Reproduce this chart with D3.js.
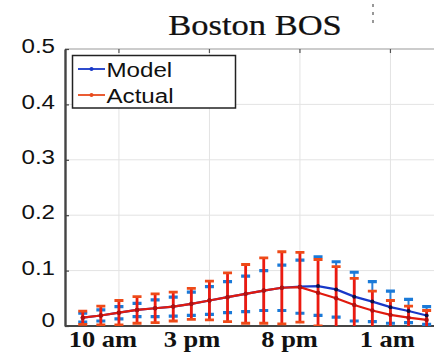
<!DOCTYPE html>
<html>
<head>
<meta charset="utf-8">
<script src="https://cdn.jsdelivr.net/npm/d3@7"></script>
<style>
  html, body { margin: 0; padding: 0; background: #fff; }
  svg { display: block; }
</style>
</head>
<body>
<svg id="chart" width="434" height="359"></svg>
<script>
// ---- data ----
const hourIndex = [0,1,2,3,4,5,6,7,8,9,10,11,12,13,14,15,16,17,18,19];
const modelValues = [0.015,0.019,0.024,0.029,0.032,0.035,0.040,0.046,0.052,0.058,0.064,0.069,0.071,0.072,0.066,0.053,0.044,0.034,0.027,0.019];
const modelErrors = [0.008,0.010,0.011,0.012,0.015,0.017,0.021,0.025,0.028,0.032,0.036,0.041,0.048,0.053,0.050,0.044,0.036,0.029,0.021,0.016];
const actualValues = [0.015,0.019,0.024,0.029,0.032,0.035,0.040,0.046,0.052,0.058,0.064,0.069,0.070,0.060,0.050,0.038,0.028,0.020,0.015,0.011];
const actualErrors = [0.012,0.017,0.022,0.024,0.026,0.026,0.028,0.035,0.044,0.053,0.059,0.065,0.063,0.060,0.057,0.048,0.035,0.026,0.021,0.017];
const yTicks = [0, 0.1, 0.2, 0.3, 0.4, 0.5];
const xGridTicks = [2, 7, 12, 17];
const xTickPositions = [1.09, 6.01, 11.4, 16.8];
const xTickLabels = ["10 am", "3 pm", "8 pm", "1 am"];
const seriesNames = ["Model", "Actual"];
const titleText = "Boston BOS";

(function () {
// ---- layout ----
const svg = d3.select("#chart");
const pL = 65, pR = 437.5, pT = 49, pB = 326;
const x = d3.scaleLinear().domain([-0.98, 19.6]).range([pL, pR]);
const y = d3.scaleLinear().domain([0, 0.5]).range([pB, pT]);
const SX = 1.15; // horizontal stretch of the reference's text

const blue = "#1838c8", red = "#e01a0e";

svg.append("clipPath").attr("id", "clip")
  .append("rect").attr("x", pL).attr("y", pT).attr("width", pR - pL).attr("height", pB - pT);

// grid
const grid = svg.append("g");
grid.selectAll("line.gy").data(yTicks.filter(d => d > 0 && d < 0.5)).join("line")
  .attr("x1", pL).attr("x2", pR).attr("y1", d => y(d)).attr("y2", d => y(d))
  .attr("stroke", "#e3e3e3").attr("stroke-width", 1);
grid.selectAll("line.gx").data(xGridTicks).join("line")
  .attr("x1", d => x(d)).attr("x2", d => x(d)).attr("y1", pT).attr("y2", pB)
  .attr("stroke", "#e3e3e3").attr("stroke-width", 1);

// top border with inward ticks
svg.append("line").attr("x1", pL).attr("x2", pR).attr("y1", pT).attr("y2", pT)
  .attr("stroke", "#9a9a9a").attr("stroke-width", 1.2);
svg.append("g").selectAll("line").data(xGridTicks).join("line")
  .attr("x1", d => x(d)).attr("x2", d => x(d)).attr("y1", pT).attr("y2", pT + 4)
  .attr("stroke", "#555").attr("stroke-width", 1.2);

// y axis
const yAxis = d3.axisLeft(y).tickValues(yTicks).tickFormat(d => d === 0 ? "0" : d3.format(".1f")(d))
  .tickSizeInner(-4).tickSizeOuter(0).tickPadding(10);
const gy = svg.append("g").attr("transform", `translate(${pL},0)`).call(yAxis);
gy.select(".domain").attr("stroke", "#444").attr("stroke-width", 2.4);
gy.selectAll(".tick line").attr("stroke", "#444").attr("stroke-width", 1.2);
gy.selectAll(".tick text")
  .attr("font-family", "Liberation Sans, Arial, sans-serif").attr("font-size", 21).attr("fill", "#111")
  .attr("x", -10 / SX).attr("dy", "0.32em")
  .attr("transform", d => `translate(0,${d === 0 ? -6 : -3}) scale(${SX},1)`);

// x axis (labels)
const xAxis = d3.axisBottom(x).tickValues(xTickPositions).tickFormat((d, i) => xTickLabels[i])
  .tickSize(0).tickPadding(5);
const gx = svg.append("g").attr("transform", `translate(0,${pB})`).call(xAxis);
gx.select(".domain").attr("stroke", "#444").attr("stroke-width", 2.2).attr("d", `M${pL},0H${434}`);
gx.selectAll(".tick text")
  .attr("font-family", "Liberation Serif, Times New Roman, serif").attr("font-size", 23)
  .attr("fill", "#111").attr("font-weight", "600")
  .attr("transform", `scale(${SX},1)`).attr("x", 0).attr("dy", "0.71em");

// data layers
const plot = svg.append("g").attr("clip-path", "url(#clip)");

function errorBars(g, vals, errs, lineColor, capColor, capW, lineW, capStroke) {
  const eg = g.append("g");
  const data = hourIndex.map((h, i) => ({ h, lo: vals[i] - errs[i], hi: vals[i] + errs[i] }));
  eg.selectAll("line.v").data(data).join("line")
    .attr("x1", d => x(d.h)).attr("x2", d => x(d.h))
    .attr("y1", d => y(d.lo)).attr("y2", d => y(d.hi))
    .attr("stroke", lineColor).attr("stroke-width", lineW);
  ["lo", "hi"].forEach(k => {
    eg.append("g").selectAll("line").data(data).join("line")
      .attr("x1", d => x(d.h) - capW / 2).attr("x2", d => x(d.h) + capW / 2)
      .attr("y1", d => y(d[k])).attr("y2", d => y(d[k]))
      .attr("stroke", capColor).attr("stroke-width", capStroke);
  });
}

const line = d3.line().x((d, i) => x(hourIndex[i])).y(d => y(d));

// model error bars (drawn first, mostly hidden behind actual bars)
errorBars(plot, modelValues, modelErrors, "#2b7fd8", "#1a7ad8", 9, 2, 3.2);
// actual error bars
errorBars(plot, actualValues, actualErrors, "#ec1a10", "#ee4a18", 9, 2.8, 2.8);

// model line
plot.append("path").datum(modelValues).attr("d", line)
  .attr("fill", "none").attr("stroke", blue).attr("stroke-width", 2.2);
plot.append("g").selectAll("circle").data(modelValues).join("circle")
  .attr("cx", (d, i) => x(hourIndex[i])).attr("cy", d => y(d)).attr("r", 2)
  .attr("fill", "#101040");
// actual line
plot.append("path").datum(actualValues).attr("d", line)
  .attr("fill", "none").attr("stroke", red).attr("stroke-width", 2.2);
plot.append("g").selectAll("circle").data(actualValues).join("circle")
  .attr("cx", (d, i) => x(hourIndex[i])).attr("cy", d => y(d)).attr("r", 2.2)
  .attr("fill", "#b01010");

// legend
const lg = svg.append("g");
lg.append("rect").attr("x", 72.5).attr("y", 55.5).attr("width", 163).attr("height", 52.5)
  .attr("fill", "#fff").attr("stroke", "#222").attr("stroke-width", 1.5);
const legendColors = [blue, "#e84a1c"];
const legendY = [69, 95];
seriesNames.forEach((name, i) => {
  lg.append("line").attr("x1", 78).attr("x2", 105).attr("y1", legendY[i]).attr("y2", legendY[i])
    .attr("stroke", legendColors[i]).attr("stroke-width", 1.8);
  lg.append("circle").attr("cx", 91.5).attr("cy", legendY[i]).attr("r", 2).attr("fill", legendColors[i]);
  lg.append("text").attr("transform", `translate(106.5,${legendY[i] + 7.5}) scale(${SX},1)`)
    .attr("font-family", "Liberation Sans, Arial, sans-serif").attr("font-size", 21).attr("fill", "#111")
    .text(name);
});

// title
svg.append("text").attr("transform", `translate(255,35) scale(${SX},1)`)
  .attr("text-anchor", "middle").attr("font-family", "Liberation Serif, Times New Roman, serif")
  .attr("font-size", 30).attr("fill", "#111").attr("stroke", "#111").attr("stroke-width", 0.25)
  .text(titleText);

// small dashed artifact at top right
svg.append("line").attr("x1", 373).attr("x2", 373).attr("y1", 4).attr("y2", 23)
  .attr("stroke", "#777").attr("stroke-width", 1.5).attr("stroke-dasharray", "3,5");
})();
</script>
</body>
</html>
